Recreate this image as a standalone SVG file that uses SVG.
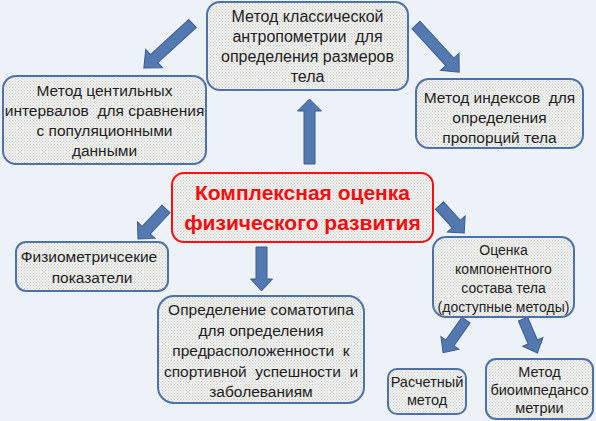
<svg xmlns="http://www.w3.org/2000/svg" width="596" height="421" viewBox="0 0 596 421">
<defs>
<pattern id="dots" width="3" height="3" patternUnits="userSpaceOnUse">
<rect width="3" height="3" fill="#EFF0F0"/>
<rect x="0" y="0" width="1" height="1" fill="#D8CDB5"/>
<rect x="1.5" y="1.5" width="1" height="1" fill="#C9D3E3"/>
</pattern>
<style>
.box{fill:url(#dots);stroke:#4E72A8;stroke-width:2}
.main{fill:url(#dots);stroke:#FF1010;stroke-width:2}
.t{font-family:"Liberation Sans",Arial,sans-serif;font-size:15.5px;fill:#1E1E1E;text-anchor:middle;white-space:pre}
.tl{font-size:16px}
.ts{font-size:14px}
.tx{font-size:14.5px}
.tm{font-family:"Liberation Sans",Arial,sans-serif;font-size:21px;font-weight:bold;fill:#FF0A0A;text-anchor:middle}
.arr{fill:#5479B0;stroke:#3C5D8E;stroke-width:1}
</style>
</defs>
<rect width="596" height="421" fill="#EDF1F8"/>
<g id="connectors">
<path class="arr" transform="translate(192.5,23.5) rotate(137.5)" d="M0,-5.5 L52,-5.5 L52,-12.5 L66,0 L52,12.5 L52,5.5 L0,5.5 Z"/>
<path class="arr" transform="translate(416,25) rotate(47.5)" d="M0,-5.5 L50,-5.5 L50,-12.5 L64,0 L50,12.5 L50,5.5 L0,5.5 Z"/>
<path class="arr" transform="translate(309.5,164) rotate(-90)" d="M0,-5.5 L53,-5.5 L53,-12 L65,0 L53,12 L53,5.5 L0,5.5 Z"/>
<path class="arr" transform="translate(166,209) rotate(133)" d="M0,-5.5 L29,-5.5 L29,-12 L41,0 L29,12 L29,5.5 L0,5.5 Z"/>
<path class="arr" transform="translate(261.5,247) rotate(90)" d="M0,-5.5 L32,-5.5 L32,-11 L44,0 L32,11 L32,5.5 L0,5.5 Z"/>
<path class="arr" transform="translate(439.5,205.5) rotate(48)" d="M0,-5.5 L25,-5.5 L25,-12 L37,0 L25,12 L25,5.5 L0,5.5 Z"/>
<path class="arr" transform="translate(466,320) rotate(125)" d="M0,-5 L28,-5 L28,-11 L40,0 L28,11 L28,5 L0,5 Z"/>
<path class="arr" transform="translate(523,319) rotate(67)" d="M0,-5 L25,-5 L25,-11 L37,0 L25,11 L25,5 L0,5 Z"/>
</g>
<g id="n-classic">
<rect class="box" x="207" y="2" width="201" height="88" rx="13"/>
<text class="t tl" x="307.5" y="22">Метод классической</text>
<text class="t tl" x="307.5" y="42">антропометрии  для</text>
<text class="t tl" x="307.5" y="62">определения размеров</text>
<text class="t tl" x="307.5" y="82">тела</text>
</g>
<g id="n-centile">
<rect class="box" x="3" y="76" width="203" height="88" rx="13"/>
<text class="t" x="104.5" y="96">Метод центильных</text>
<text class="t" x="104.5" y="116">интервалов  для сравнения</text>
<text class="t" x="104.5" y="136">с популяционными</text>
<text class="t" x="104.5" y="156">данными</text>
</g>
<g id="n-index">
<rect class="box" x="416" y="79" width="167" height="69" rx="13"/>
<text class="t" x="499.5" y="103">Метод индексов  для</text>
<text class="t" x="499.5" y="123">определения</text>
<text class="t" x="499.5" y="143">пропорций тела</text>
</g>
<g id="n-main">
<rect class="main" x="172" y="173" width="261" height="69" rx="12"/>
<text class="tm" x="302.5" y="200">Комплексная оценка</text>
<text class="tm" x="302.5" y="230">физического развития</text>
</g>
<g id="n-physio">
<rect class="box" x="16" y="242" width="152" height="49" rx="10"/>
<text class="t" x="89" y="262">Физиометричсекие</text>
<text class="t" x="92" y="283">показатели</text>
</g>
<g id="n-somato">
<rect class="box" x="158" y="296" width="206" height="107" rx="16"/>
<text class="t" x="261" y="315">Определение соматотипа</text>
<text class="t" x="261" y="336">для определения</text>
<text class="t" x="261" y="356">предрасположенности  к</text>
<text class="t" x="261" y="377">спортивной  успешности  и</text>
<text class="t" x="261" y="397">заболеваниям</text>
</g>
<g id="n-component">
<rect class="box" x="433" y="237" width="141" height="80" rx="13"/>
<text class="t ts" x="503.5" y="255">Оценка</text>
<text class="t ts" x="503.5" y="274">компонентного</text>
<text class="t ts" x="503.5" y="293">состава тела</text>
<text class="t ts" x="503.5" y="312">(доступные методы)</text>
</g>
<g id="n-calc">
<rect class="box" x="388" y="369" width="78" height="45" rx="9"/>
<text class="t tx" x="427" y="387">Расчетный</text>
<text class="t tx" x="427" y="405">метод</text>
</g>
<g id="n-bio">
<rect class="box" x="486" y="359" width="107" height="60" rx="10"/>
<text class="t tx" x="539.5" y="377">Метод</text>
<text class="t tx" x="539.5" y="395">биоимпедансо</text>
<text class="t tx" x="539.5" y="413">метрии</text>
</g>
</svg>
